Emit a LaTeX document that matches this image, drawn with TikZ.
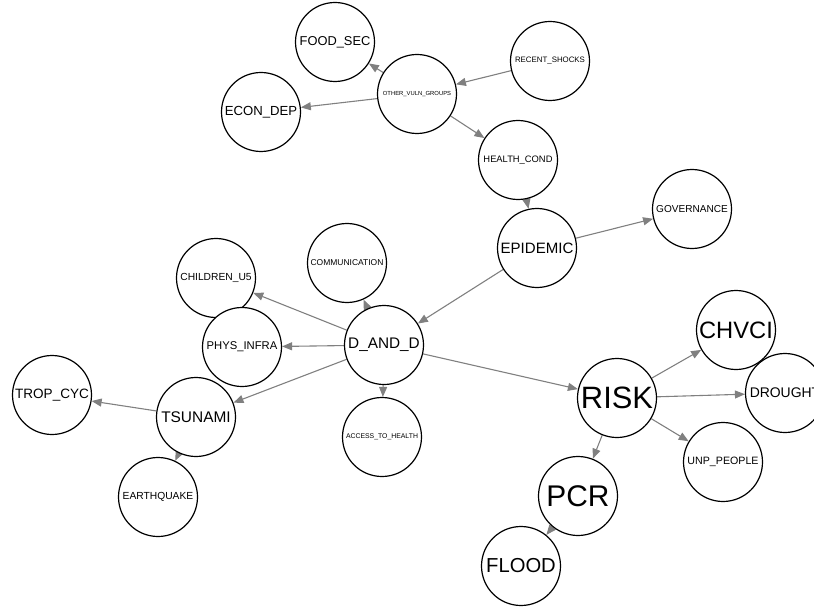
\documentclass[tikz,border=0pt]{standalone}
\usepackage{fontspec}
\setmainfont{Liberation Sans}
\usetikzlibrary{arrows.meta, backgrounds}
\tikzstyle{vertex}=[shape=circle, draw=black, fill=white, line width=1.2bp, inner sep=0pt, minimum size=79bp]
\tikzstyle{link}=[draw=gray, line width=1.1bp, -{Triangle[length=10bp,width=8bp]}]
\tikzset{fs/.style={font=\fontsize{#1}{#1}\selectfont}}

\begin{document}
\begin{tikzpicture}[x=1bp, y=-1bp]
\useasboundingbox (0,0) rectangle (814,609);
% top group
\node[vertex, fs=12.9] (food) at (335,42) {FOOD\_SEC};
\node[vertex, fs=5.9] (ovg) at (417,94) {OTHER\_VULN\_GROUPS};
\node[vertex, fs=7.9] (rs) at (550,61) {RECENT\_SHOCKS};
\node[vertex, fs=13.2] (ed) at (261,112) {ECON\_DEP};
\node[vertex, fs=9.4] (hc) at (518,160) {HEALTH\_COND};
\node[vertex, fs=15.1] (epi) at (537,248) {EPIDEMIC};
\node[vertex, fs=10.1] (gov) at (692,209) {GOVERNANCE};
% left group
\node[vertex, fs=8.5] (com) at (347,263) {COMMUNICATION};
\node[vertex, fs=10.3] (cu5) at (216,278) {CHILDREN\_U5};
\node[vertex, fs=11.3] (pi) at (242,347) {PHYS\_INFRA};
\node[vertex, fs=15.4] (dd) at (384,345) {D\_AND\_D};
\node[vertex, fs=6.9] (ath) at (382,437) {ACCESS\_TO\_HEALTH};
\node[vertex, fs=15.5] (tsu) at (196,417) {TSUNAMI};
\node[vertex, fs=13.6] (tc) at (52,395) {TROP\_CYC};
\node[vertex, fs=10.3] (eq) at (158,497) {EARTHQUAKE};
% right group
\node[vertex, fs=31] (risk) at (617,398) {RISK};
\node[vertex, fs=23.8] (chv) at (736,330) {CHVCI};
\node[vertex, fs=14] (dr) at (785,393) {DROUGHT};
\node[vertex, fs=10.7] (unp) at (723,462) {UNP\_PEOPLE};
\node[vertex, fs=30] (pcr) at (578,496) {PCR};
\node[vertex, fs=20.3] (fl) at (521,566) {FLOOD};
%edges
\begin{scope}[on background layer]
\foreach \a/\b in {rs/ovg, ovg/food, ovg/ed, ovg/hc, hc/epi, epi/gov, epi/dd,
  dd/com, dd/cu5, dd/pi, dd/tsu, dd/ath, dd/risk, tsu/tc, tsu/eq,
  risk/chv, risk/dr, risk/unp, risk/pcr, pcr/fl}
  \draw[link] (\a) -- (\b);
\end{scope}
\end{tikzpicture}
\end{document}
